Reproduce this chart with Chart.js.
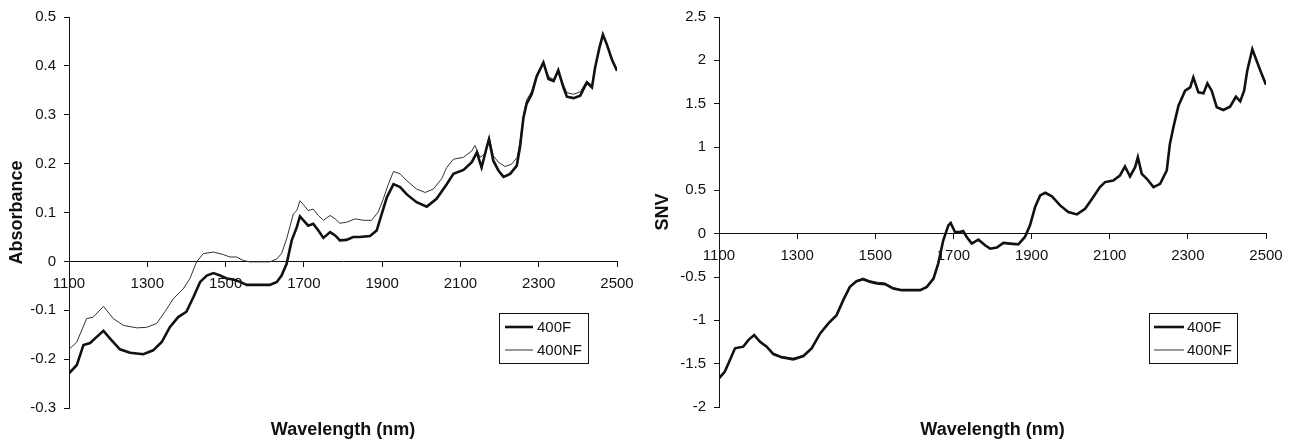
<!DOCTYPE html>
<html>
<head>
<meta charset="utf-8">
<script src="https://cdn.jsdelivr.net/npm/chart.js@4.4.1/dist/chart.umd.min.js"></script>
<style>
  html, body { margin: 0; padding: 0; background: #fff; }
  #wrap { position: relative; width: 1296px; height: 441px; overflow: hidden; }
  .pane { position: absolute; top: 0; width: 648px; height: 441px; }
</style>
</head>
<body>
<div id="wrap">
  <div class="pane" style="left:0"><canvas id="cAbs" width="648" height="441"></canvas></div>
  <div class="pane" style="left:648px"><canvas id="cSnv" width="648" height="441"></canvas></div>
</div>
<script>
// ---------- DATA ----------
const seriesNames = ['400F', '400NF'];
const xTickValues = [1100, 1300, 1500, 1700, 1900, 2100, 2300, 2500];
const absTickLabels = ['-0.3', '-0.2', '-0.1', '0', '0.1', '0.2', '0.3', '0.4', '0.5'];
const snvTickLabels = ['-2', '-1.5', '-1', '-0.5', '0', '0.5', '1', '1.5', '2', '2.5'];

// Absorbance, 400F
const absF_wl = [1100,1120,1137,1154,1166,1188,1205,1230,1256,1290,1315,1337,1358,1379,1400,1418,1435,1452,1469,1486,1503,1520,1537,1554,1588,1613,1631,1643,1656,1669,1682,1690,1699,1711,1724,1737,1750,1767,1780,1792,1809,1826,1843,1869,1886,1899,1912,1929,1946,1963,1988,2014,2039,2065,2082,2108,2129,2142,2154,2167,2173,2184,2197,2210,2227,2244,2252,2261,2269,2282,2295,2312,2325,2338,2350,2363,2372,2389,2406,2423,2436,2444,2455,2464,2474,2487,2500];
const absF_val = [-0.229,-0.212,-0.171,-0.167,-0.158,-0.142,-0.158,-0.180,-0.187,-0.190,-0.182,-0.165,-0.134,-0.114,-0.103,-0.073,-0.042,-0.029,-0.024,-0.029,-0.035,-0.037,-0.042,-0.048,-0.048,-0.048,-0.042,-0.029,-0.005,0.043,0.070,0.092,0.084,0.073,0.077,0.063,0.048,0.060,0.053,0.043,0.044,0.050,0.050,0.052,0.063,0.097,0.131,0.158,0.152,0.137,0.121,0.112,0.128,0.158,0.179,0.187,0.203,0.223,0.192,0.233,0.250,0.206,0.186,0.173,0.179,0.196,0.233,0.294,0.322,0.342,0.379,0.407,0.373,0.369,0.391,0.356,0.337,0.334,0.339,0.366,0.356,0.396,0.437,0.464,0.444,0.413,0.390];

// Absorbance, 400NF
const absNF_wl = [1100,1120,1145,1162,1188,1213,1239,1273,1298,1324,1345,1367,1392,1409,1426,1443,1469,1494,1511,1528,1545,1562,1613,1631,1643,1656,1673,1682,1690,1699,1711,1724,1737,1750,1767,1780,1792,1809,1831,1852,1873,1890,1903,1916,1929,1946,1963,1988,2010,2031,2052,2065,2082,2108,2129,2137,2150,2163,2173,2184,2197,2214,2231,2245,2252,2261,2269,2282,2295,2312,2325,2338,2350,2363,2372,2389,2406,2423,2436,2444,2455,2464,2474,2487,2500];
const absNF_val = [-0.180,-0.165,-0.117,-0.114,-0.092,-0.117,-0.131,-0.136,-0.135,-0.127,-0.103,-0.076,-0.056,-0.035,-0.001,0.016,0.019,0.014,0.009,0.009,0.002,-0.001,-0.001,0.005,0.016,0.046,0.097,0.104,0.124,0.116,0.104,0.107,0.094,0.084,0.094,0.087,0.078,0.080,0.087,0.084,0.084,0.101,0.128,0.158,0.184,0.179,0.165,0.148,0.141,0.148,0.169,0.192,0.209,0.213,0.226,0.237,0.213,0.220,0.255,0.216,0.203,0.194,0.199,0.213,0.243,0.300,0.330,0.348,0.382,0.405,0.378,0.372,0.389,0.362,0.345,0.342,0.347,0.369,0.360,0.396,0.436,0.462,0.443,0.412,0.389];

// SNV, 400F
const snvF_wl = [1100,1115,1128,1141,1162,1175,1190,1205,1222,1239,1260,1290,1316,1337,1359,1380,1401,1418,1435,1452,1469,1486,1504,1525,1546,1567,1615,1632,1649,1661,1674,1687,1693,1704,1717,1725,1734,1747,1764,1781,1794,1811,1828,1845,1866,1883,1896,1909,1922,1935,1952,1973,1994,2016,2037,2058,2075,2088,2109,2126,2139,2152,2165,2172,2182,2195,2212,2229,2246,2254,2263,2276,2293,2306,2314,2327,2340,2350,2361,2374,2391,2408,2423,2434,2444,2452,2465,2476,2489,2500];
const snvF_val = [-1.669,-1.592,-1.458,-1.323,-1.304,-1.228,-1.170,-1.247,-1.304,-1.389,-1.427,-1.450,-1.412,-1.323,-1.151,-1.036,-0.940,-0.767,-0.614,-0.549,-0.526,-0.556,-0.575,-0.583,-0.633,-0.652,-0.652,-0.614,-0.518,-0.345,-0.077,0.096,0.123,0.019,0.019,0.031,-0.038,-0.115,-0.069,-0.134,-0.173,-0.161,-0.107,-0.115,-0.123,-0.038,0.096,0.307,0.441,0.472,0.430,0.326,0.249,0.222,0.288,0.422,0.537,0.595,0.614,0.671,0.775,0.660,0.767,0.882,0.690,0.633,0.537,0.575,0.729,1.036,1.228,1.477,1.650,1.688,1.803,1.630,1.619,1.734,1.650,1.458,1.427,1.465,1.580,1.527,1.650,1.880,2.129,1.995,1.841,1.719];

// SNV, 400NF
const snvNF_wl = [1100,1115,1128,1141,1162,1175,1190,1205,1222,1239,1260,1290,1316,1337,1359,1380,1401,1418,1435,1452,1469,1486,1504,1525,1546,1567,1615,1632,1649,1661,1674,1687,1693,1704,1717,1725,1734,1747,1764,1781,1794,1811,1828,1845,1866,1883,1896,1909,1922,1935,1952,1973,1994,2016,2037,2058,2075,2088,2109,2126,2139,2152,2165,2172,2182,2195,2212,2229,2246,2254,2263,2276,2293,2306,2314,2327,2340,2350,2361,2374,2391,2408,2423,2434,2444,2452,2465,2476,2489,2500];
const snvNF_val = [-1.660,-1.585,-1.450,-1.318,-1.300,-1.225,-1.165,-1.240,-1.296,-1.378,-1.415,-1.438,-1.405,-1.318,-1.145,-1.030,-0.932,-0.760,-0.605,-0.540,-0.512,-0.542,-0.560,-0.568,-0.622,-0.645,-0.648,-0.612,-0.515,-0.340,-0.072,0.098,0.126,0.022,0.021,0.033,-0.036,-0.113,-0.068,-0.133,-0.171,-0.160,-0.106,-0.114,-0.122,-0.037,0.097,0.308,0.442,0.473,0.431,0.327,0.250,0.223,0.289,0.422,0.537,0.595,0.614,0.671,0.775,0.660,0.767,0.885,0.690,0.633,0.537,0.575,0.729,1.036,1.228,1.477,1.650,1.688,1.803,1.630,1.619,1.734,1.650,1.460,1.430,1.468,1.582,1.529,1.650,1.880,2.127,1.995,1.841,1.719];

// ---------- HELPERS ----------
const FONT = "'Liberation Sans', Arial, Helvetica, sans-serif";
Chart.defaults.font.family = FONT;
Chart.defaults.color = '#111';

function zip(xs, ys) { return xs.map((x, i) => ({ x: x, y: ys[i] })); }

const boxLegend = {
  id: 'boxLegend',
  afterDraw(chart, args, opts) {
    const ctx = chart.ctx;
    ctx.save();
    ctx.strokeStyle = '#111';
    ctx.lineWidth = 1;
    ctx.strokeRect(opts.x + 0.5, opts.y + 0.5, opts.w, opts.h);
    ctx.font = '15px ' + FONT;
    ctx.textBaseline = 'middle';
    ctx.textAlign = 'left';
    ctx.fillStyle = '#111';
    chart.data.datasets.forEach((ds, i) => {
      const yy = opts.y + opts.rowY[i];
      ctx.beginPath();
      ctx.strokeStyle = ds.borderColor;
      ctx.lineWidth = ds.borderWidth;
      ctx.moveTo(opts.x + opts.lineX0, yy);
      ctx.lineTo(opts.x + opts.lineX1, yy);
      ctx.stroke();
      ctx.fillText(ds.label, opts.x + opts.textX, yy + 1);
    });
    ctx.restore();
  }
};

const xTitle = {
  id: 'xTitle',
  afterDraw(chart, args, opts) {
    const ctx = chart.ctx;
    const ca = chart.chartArea;
    ctx.save();
    ctx.font = 'bold 18px ' + FONT;
    ctx.fillStyle = '#111';
    ctx.textAlign = 'center';
    ctx.textBaseline = 'alphabetic';
    ctx.fillText(opts.text, (ca.left + ca.right) / 2, opts.baseline);
    ctx.restore();
  }
};

function makeChart(id, cfg) {
  return new Chart(document.getElementById(id), {
    type: 'line',
    data: {
      datasets: [
        { label: seriesNames[0], data: cfg.f, borderColor: '#111', borderWidth: 2.6, pointRadius: 0, tension: 0, fill: false },
        { label: seriesNames[1], data: cfg.nf, borderColor: '#333', borderWidth: 1, pointRadius: 0, tension: 0, fill: false }
      ]
    },
    options: {
      responsive: false,
      animation: false,
      devicePixelRatio: 1,
      layout: { padding: cfg.padding },
      plugins: {
        legend: { display: false },
        tooltip: { enabled: false },
        boxLegend: cfg.legend,
        xTitle: { text: 'Wavelength (nm)', baseline: 435 }
      },
      scales: {
        x: {
          type: 'linear',
          min: 1100, max: 2500,
          position: { y: 0 },
          afterBuildTicks: (s) => { s.ticks = xTickValues.map(v => ({ value: v })); },
          ticks: { font: { size: 15 }, color: '#111', padding: 8, maxRotation: 0, autoSkip: false,
                   callback: (v) => String(v) },
          grid: { drawOnChartArea: false, drawTicks: true, tickLength: 5, color: '#111', lineWidth: 1 },
          border: { display: true, color: '#111', width: 1 }
        },
        y: {
          type: 'linear',
          position: 'left',
          min: cfg.ymin, max: cfg.ymax,
          afterBuildTicks: (s) => { s.ticks = cfg.yTicks.map(t => ({ value: parseFloat(t) })); },
          afterFit: (s) => { s.width = cfg.axisWidth; },
          ticks: { font: { size: 15 }, color: '#111', padding: 8, autoSkip: false,
                   callback: (v) => String(Math.round(v * 10) / 10) },
          grid: { drawOnChartArea: false, drawTicks: true, tickLength: 5, color: '#111', lineWidth: 1 },
          border: { display: true, color: '#111', width: 1 },
          title: { display: true, text: cfg.yTitle, font: { size: 18, weight: 'bold' }, color: '#111',
                   padding: { top: cfg.titlePad, bottom: 0 } }
        }
      }
    },
    plugins: [boxLegend, xTitle]
  });
}

makeChart('cAbs', {
  f: zip(absF_wl, absF_val),
  nf: zip(absNF_wl, absNF_val),
  ymin: -0.3, ymax: 0.5, yTicks: absTickLabels,
  yTitle: 'Absorbance',
  axisWidth: 69,
  titlePad: 6,
  padding: { top: 16, bottom: 33, left: 0, right: 31 },
  legend: { x: 499, y: 313, w: 89, h: 50, lineX0: 6, lineX1: 34, textX: 38, rowY: [14, 37] }
});

makeChart('cSnv', {
  f: zip(snvF_wl, snvF_val),
  nf: zip(snvNF_wl, snvNF_val),
  ymin: -2, ymax: 2.5, yTicks: snvTickLabels,
  yTitle: 'SNV',
  axisWidth: 71,
  titlePad: 4,
  padding: { top: 16, bottom: 34, left: 0, right: 30 },
  legend: { x: 501, y: 313, w: 88, h: 50, lineX0: 5, lineX1: 35, textX: 38, rowY: [14, 37] }
});
</script>
</body>
</html>
